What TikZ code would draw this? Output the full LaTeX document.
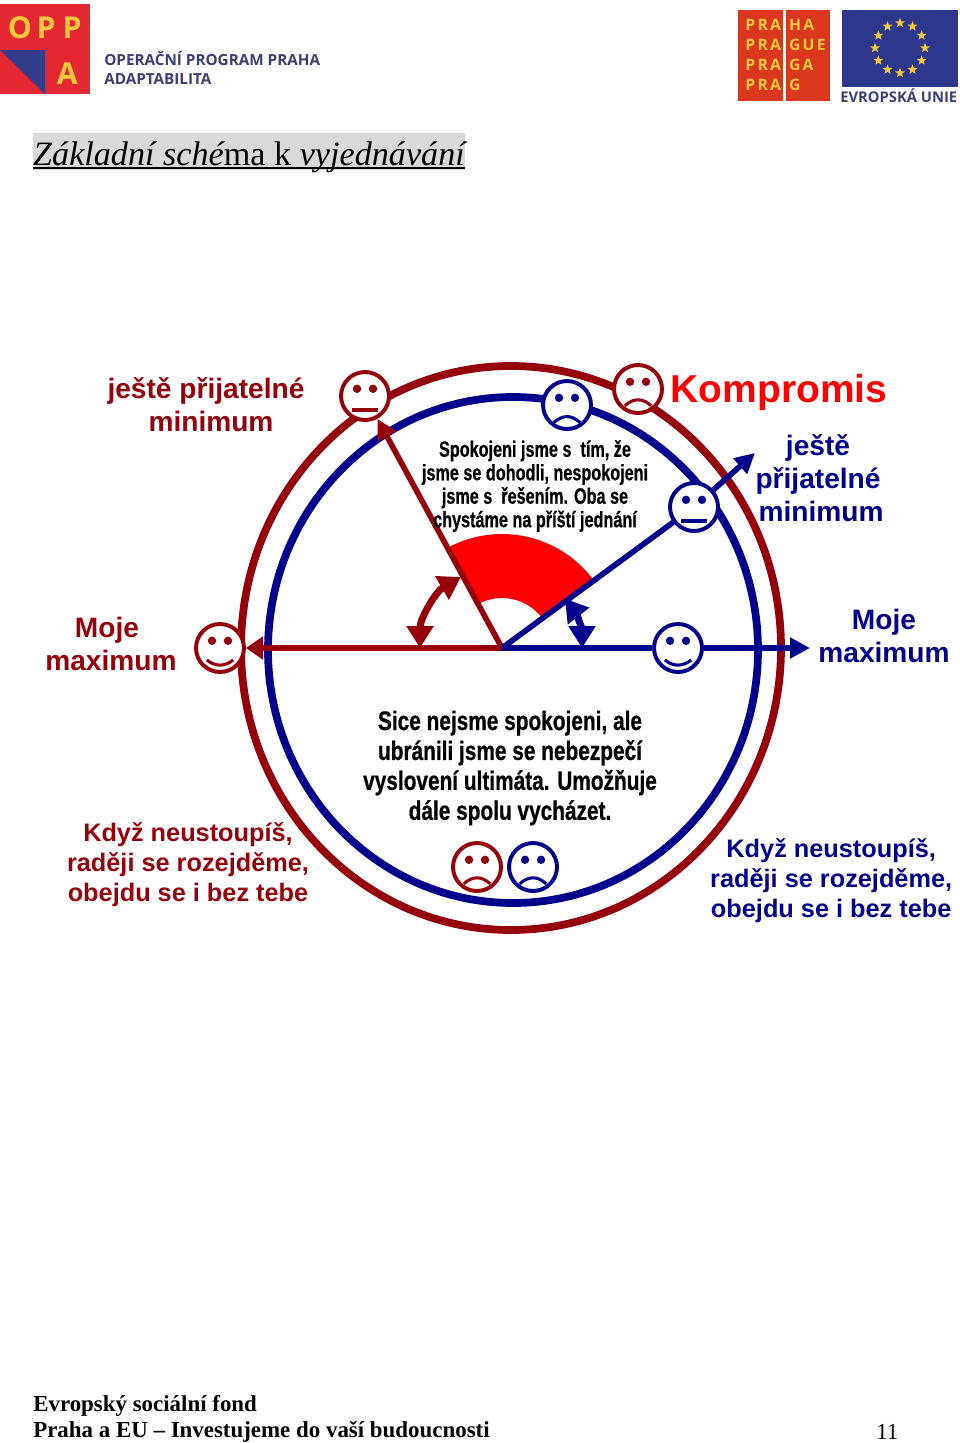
\documentclass[tikz,border=0pt]{standalone}
\usepackage{fontspec}
\setmainfont{Liberation Serif}
\setsansfont{Liberation Sans}
\newfontfamily\narrowfont[FakeStretch=0.73,FakeBold=0.6]{Liberation Sans}
\newfontfamily\narrowerfont[FakeStretch=0.78,FakeBold=0.6]{Liberation Sans}
\newfontfamily\logofont{Open Sans}
\newfontfamily\pragafont[LetterSpace=14]{Open Sans}
\usetikzlibrary{arrows.meta,shapes.geometric}
\definecolor{darkred}{RGB}{150,0,10}
\definecolor{darkblue}{RGB}{0,0,140}
\definecolor{oppred}{RGB}{227,40,50}
\definecolor{oppblue}{RGB}{52,62,140}
\definecolor{opptext}{RGB}{60,62,120}
\definecolor{prared}{RGB}{218,55,30}
\definecolor{eublue}{RGB}{45,55,140}
\definecolor{gold}{RGB}{245,200,60}
\tikzset{
  face/.style={circle,draw=#1,fill=white,line width=2.8pt,minimum size=1.2cm,inner sep=0pt},
  rim/.style={line width=5.5pt},
  spoke/.style={line width=4pt},
  swing/.style={line width=5pt},
  label/.style={font=\sffamily\bfseries\fontsize{20}{23.5}\selectfont,align=center},
  small/.style={font=\sffamily\bfseries\fontsize{18}{21.3}\selectfont,align=center},
  note/.style={font=\narrowfont\bfseries\fontsize{15.8}{16.7}\selectfont,align=center},
  note2/.style={font=\narrowerfont\bfseries\fontsize{19}{21.3}\selectfont,align=center},
  foot/.style={font=\bfseries\fontsize{16.3}{18}\selectfont,anchor=west,inner sep=0pt},
  oppa/.style={font=\logofont\bfseries\fontsize{10.85}{13}\selectfont,text=opptext,anchor=west,inner sep=0pt},
  oppchar/.style={font=\logofont\bfseries\fontsize{21.5}{23}\selectfont,text=gold,inner sep=0pt},
  pra/.style={font=\pragafont\bfseries\fontsize{11.2}{12}\selectfont,text=gold,anchor=west,inner sep=0pt},
  eustar/.style={star,star points=5,star point ratio=2.4,fill=gold,minimum size=0.26cm,inner sep=0pt},
}
\begin{document}
\begin{tikzpicture}
\useasboundingbox (0,0) rectangle (24,-36.075);

% logos
\fill[oppred] (0,-0.1) rectangle (2.25,-2.35);
\fill[oppblue] (0,-1.25) -- (1.125,-1.25) -- (1.125,-2.35) -- cycle;
\node[oppchar] (o1) at (0.5,-0.7) {O};
\node[oppchar] (p1) at (1.15,-0.7) {P};
\node[oppchar] (p2) at (1.8,-0.7) {P};
\node[oppchar] (a1) at (1.68,-1.85) {A};
\node[oppa] (oppa1) at (2.6,-1.47) {OPERAČNÍ PROGRAM PRAHA};
\node[oppa] (oppa2) at (2.6,-1.97) {ADAPTABILITA};

\fill[prared] (18.45,-0.25) rectangle (20.75,-2.52);
\fill[white] (19.58,-0.25) rectangle (19.64,-2.52);
\foreach \i/\y/\t in {1/-0.62/HA, 2/-1.12/GUE, 3/-1.62/GA, 4/-2.12/G} {
  \node[pra] (pl\i) at (18.63,\y) {PRA};
  \node[pra] (pr\i) at (19.72,\y) {\t};
}

\fill[eublue] (21.05,-0.25) rectangle (23.95,-2.17);
\foreach \i in {1,...,12}
  \node[eustar] (star\i) at ({22.5+0.625*cos(30*\i)},{-1.2+0.625*sin(30*\i)}) {};
\node[font=\logofont\bfseries\fontsize{10.5}{12}\selectfont,text=opptext,inner sep=0pt] (eu) at (22.47,-2.4) {EVROPSKÁ UNIE};

% heading
\node[fill=black!15,minimum width=10.8cm,inner sep=0pt,text height=0.8cm,text depth=0.125cm,
  font=\fontsize{24.3}{28}\selectfont] (head) at (6.225,-3.79) {\itshape Základní sché\upshape ma k \itshape vyjednávání};
\draw[line width=1.4pt] ([yshift=0.05cm]head.south west) -- ([yshift=0.05cm]head.south east);

% circles
\draw[darkred,rim] (12.775,-16.2) ellipse (6.75 and 7.05);
\draw[darkblue,rim] (12.825,-16.25) ellipse (6.125 and 6.325);

% faces
\foreach \n/\x/\y/\c/\m/\e in {
  rn/9.125/-9.9/darkred/0/-0.35,
  bs/14.175/-10.125/darkblue/0.2/-0.44,
  rs/15.95/-9.725/darkred/0.2/-0.42,
  bn/17.35/-12.675/darkblue/0/-0.35,
  bh/16.95/-16.2/darkblue/-0.17/-0.3,
  rh/5.5/-16.2/darkred/-0.17/-0.3,
  rb/11.925/-21.675/darkred/0.2/-0.42,
  bb/13.325/-21.675/darkblue/0.2/-0.42} {
  \node[face=\c] (\n) at (\x,\y) {};
  \fill[\c] ([shift={(-0.2,0.18)}]\n.center) circle (0.105);
  \fill[\c] ([shift={(0.2,0.18)}]\n.center) circle (0.105);
  \draw[\c,line width=2.2pt] ([shift={(-0.33,\e)}]\n.center) .. controls +(0.22,\m) and +(-0.22,\m) .. ([shift={(0.33,\e)}]\n.center);
}

% sector
\coordinate (o) at (12.55,-16.2);
\fill[red] (o) ++(118.6:2.85) arc[start angle=118.6,end angle=36.5,radius=2.85]
  -- ++(216.5:1.6) arc[start angle=36.5,end angle=118.6,radius=1.25] -- cycle;

% spokes
\coordinate (blueend) at (20.25,-16.2);
\coordinate (bnend) at (18.875,-11.325);
\draw[darkred,spoke,-{Triangle[length=0.5cm,width=0.5cm]}] (o) -- (rn);
\draw[darkred,spoke,-{Triangle[length=0.42cm,width=0.55cm]}] (o) -- (rh);
\draw[darkblue,spoke] (o) -- (bn);
\draw[darkblue,spoke,-{Triangle[length=0.5cm,width=0.5cm]}] (bn) -- (bnend);
\draw[darkblue,spoke] (o) -- (bh);
\draw[darkblue,spoke,-{Triangle[length=0.5cm,width=0.5cm]}] (bh) -- (blueend);

% angle arrows
\draw[darkred,swing,{Triangle[length=0.55cm,width=0.65cm]}-{Triangle[length=0.55cm,width=0.65cm]}]
  (o) ++(120:2.05) arc[start angle=120,end angle=180,radius=2.05];
\draw[darkblue,swing,{Triangle[length=0.55cm,width=0.65cm]}-{Triangle[length=0.55cm,width=0.65cm]}]
  (o) ++(38:2) arc[start angle=38,end angle=0,radius=2];

% texts
\node[label,text=darkred] (minleft) at (5.15,-10.125) {ještě přijatelné\\\hspace*{0.25cm}minimum};
\node[font=\sffamily\bfseries\fontsize{27.7}{30}\selectfont,text=red] (komp) at (19.475,-9.8) {Kompromis};
\node[label,text=darkblue] (minright) at (20.45,-11.95) {ještě\\přijatelné\\\hspace*{0.15cm}minimum};
\node[label,text=darkred] (maxleft) at (2.775,-16.1) {Moje\hspace*{0.2cm}\\maximum};
\node[label,text=darkblue] (maxright) at (22.1,-15.9) {Moje\\maximum};
\node[small,text=darkred] (ifleft) at (4.7,-21.61) {Když neustoupíš,\\raději se rozejděme,\\obejdu se i bez tebe};
\node[small,text=darkblue] (ifright) at (20.78,-22.01) {Když neustoupíš,\\raději se rozejděme,\\obejdu se i bez tebe};
\node[note] (happy) at (13.375,-12.15) {Spokojeni jsme s~ tím, že\\jsme se dohodli, nespokojeni\\jsme s~ řešením. Oba se\\chystáme na příští jednání};
\node[note2] (unhappy) at (12.75,-19.2) {Sice nejsme spokojeni, ale\\ubránili jsme se nebezpečí\\vyslovení ultimáta. Umožňuje\\dále spolu vycházet.};

% footer
\node[foot] (foot1) at (0.825,-35.15) {Evropský sociální fond};
\node[foot] (foot2) at (0.825,-35.8) {Praha a EU – Investujeme do vaší budoucnosti};
\node[foot,font=\fontsize{16.3}{18}\selectfont] (pagenr) at (21.9,-35.8) {11};
\end{tikzpicture}
\end{document}
